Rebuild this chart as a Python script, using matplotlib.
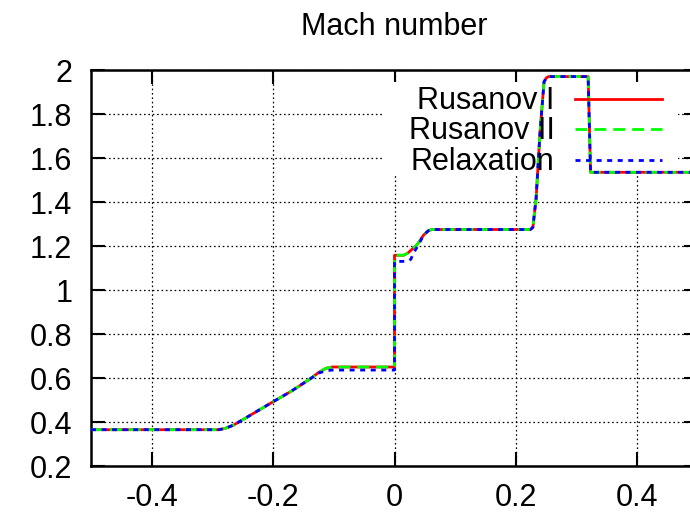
import numpy as np
import matplotlib
matplotlib.use('Agg')
import matplotlib.pyplot as plt
from matplotlib.patches import Rectangle

plt.rcParams['font.family'] = ['Liberation Sans', 'DejaVu Sans']
plt.rcParams['font.size'] = 22

# Mach number profiles along x for the three schemes
x_rus = [-0.5, -0.29, -0.28, -0.265, -0.2, -0.17, -0.14, -0.125, -0.113, -0.103, 0.0,
         0.0, 0.015, 0.022, 0.037, 0.048, 0.056, 0.062, 0.224, 0.228, 0.2333,
         0.2398, 0.2464, 0.2505, 0.2535, 0.319, 0.323, 0.5]
m_rus1 = [0.365, 0.365, 0.37, 0.386, 0.492, 0.54, 0.594, 0.625, 0.644, 0.65, 0.65,
          1.158, 1.158, 1.168, 1.205, 1.25, 1.27, 1.275, 1.275, 1.285, 1.417,
          1.72, 1.947, 1.965, 1.97, 1.97, 1.535, 1.535]
# Rusanov II sits on top of Rusanov I everywhere
m_rus2 = [0.365, 0.365, 0.37, 0.386, 0.492, 0.54, 0.594, 0.625, 0.644, 0.65, 0.65,
          1.158, 1.158, 1.168, 1.205, 1.25, 1.27, 1.275, 1.275, 1.285, 1.417,
          1.72, 1.947, 1.965, 1.97, 1.97, 1.535, 1.535]

x_rel = [-0.5, -0.29, -0.28, -0.265, -0.2, -0.17, -0.14, -0.125, -0.113, -0.103, 0.0,
         0.0, 0.022, 0.027, 0.031, 0.0395, 0.048, 0.056, 0.062, 0.224, 0.228,
         0.2333, 0.2398, 0.2464, 0.2505, 0.2535, 0.319, 0.323, 0.5]
m_rel = [0.365, 0.365, 0.37, 0.386, 0.492, 0.54, 0.594, 0.622, 0.633, 0.636, 0.636,
         1.13, 1.13, 1.14, 1.167, 1.205, 1.25, 1.27, 1.275, 1.275, 1.285,
         1.417, 1.72, 1.947, 1.965, 1.97, 1.97, 1.535, 1.535]

labels = ['Rusanov I', 'Rusanov II', 'Relaxation']
colors = ['#ff0000', '#00ff00', '#0000ff']
styles = ['-', (0, (4.3, 2.5)), (0, (1.8, 2.0))]

xticks = [-0.4, -0.2, 0, 0.2, 0.4]
xtick_labels = ['-0.4', '-0.2', '0', '0.2', '0.4']
yticks = [0.2, 0.4, 0.6, 0.8, 1.0, 1.2, 1.4, 1.6, 1.8, 2.0]
ytick_labels = ['0.2', '0.4', '0.6', '0.8', '1', '1.2', '1.4', '1.6', '1.8', '2']

fig = plt.figure(figsize=(6.9, 5.13), dpi=100)
# the frame runs a little past the right edge of the canvas
ax = fig.add_axes([91 / 690, 47 / 513, 607 / 690, 396 / 513])

ax.set_xlim(-0.5, 0.5)
ax.set_ylim(0.2, 2.0)
ax.set_xticks(xticks)
ax.set_xticklabels(xtick_labels)
ax.set_yticks(yticks)
ax.set_yticklabels(ytick_labels)
ax.tick_params(direction='in', length=10, width=1.5, top=True, right=True,
               pad=13.5, labelsize=22)
ax.tick_params(axis='x', pad=12.5)
for sp in ax.spines.values():
    sp.set_linewidth(1.8)

ax.set_axisbelow(True)
ax.grid(True, color='black', linewidth=0.9, linestyle=(0, (1.3, 2.2)))

# opaque key box hides the grid behind it
ax.add_patch(Rectangle((0.481, 0.732), 0.486, 0.238, transform=ax.transAxes,
                       facecolor='white', edgecolor='none', zorder=1))

series = [(x_rus, m_rus1), (x_rus, m_rus2), (x_rel, m_rel)]
for i, (xs, ms) in enumerate(series):
    ax.plot(xs, ms, color=colors[i], linestyle=styles[i], linewidth=2, zorder=2 + i)

# key: label right-aligned, sample line to its right
for i, lab in enumerate(labels):
    yb = 0.9015 - i * 0.077
    yl = 0.9268 - i * 0.077
    ax.text(0.764, yb, lab, transform=ax.transAxes, ha='right', va='baseline',
            fontsize=22, zorder=6)
    ax.plot([0.797, 0.941], [yl, yl], transform=ax.transAxes, color=colors[i],
            linestyle=styles[i], linewidth=2, zorder=6, clip_on=False)

fig.text(394.5 / 690, 1 - 35 / 513, 'Mach number', ha='center', va='baseline',
         fontsize=22)

fig.savefig('out.png', dpi=100)
